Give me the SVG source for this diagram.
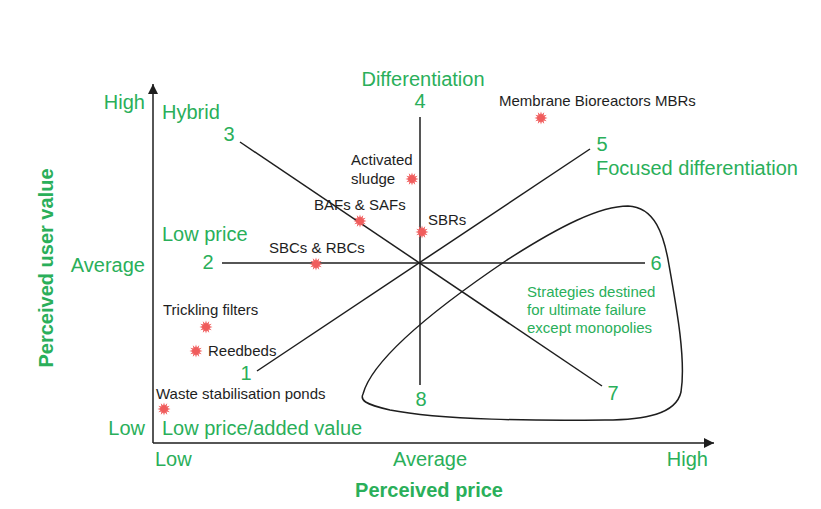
<svg xmlns="http://www.w3.org/2000/svg" xmlns:xlink="http://www.w3.org/1999/xlink" width="821" height="509" viewBox="0 0 821 509">
<style>
text { font-family: "Liberation Sans", Arial, sans-serif; }
.g { fill: #2aaf5a; font-size: 20px; }
.gb { fill: #2aaf5a; font-size: 20px; font-weight: bold; }
.gs { fill: #2aaf5a; font-size: 15px; }
.k { fill: #1e1e1e; font-size: 15px; }
.ln { stroke: #1e1e1e; stroke-width: 1.5; fill: none; }
.star { fill: #f05c5c; }
</style>
<defs>
<polygon id="star" points="6.5,0 3.48,0.93 5.63,3.25 2.55,2.55 3.25,5.63 0.93,3.48 0,6.5 -0.93,3.48 -3.25,5.63 -2.55,2.55 -5.63,3.25 -3.48,0.93 -6.5,0 -3.48,-0.93 -5.63,-3.25 -2.55,-2.55 -3.25,-5.63 -0.93,-3.48 0,-6.5 0.93,-3.48 3.25,-5.63 2.55,-2.55 5.63,-3.25 3.48,-0.93"/>
<marker id="arr" viewBox="0 0 10 10" refX="10" refY="5" markerWidth="10" markerHeight="10" markerUnits="userSpaceOnUse" orient="auto">
<path d="M0,0 L10,5 L0,10 Z" fill="#1e1e1e"/>
</marker>
</defs>
<rect width="821" height="509" fill="#ffffff"/>

<g id="axes">
<line class="ln" x1="153" y1="443" x2="153" y2="84" marker-end="url(#arr)"/>
<line class="ln" x1="153" y1="443" x2="714" y2="443" marker-end="url(#arr)"/>
<text class="g" x="145" y="109" text-anchor="end">High</text>
<text class="g" x="145" y="272" text-anchor="end">Average</text>
<text class="g" x="145" y="435" text-anchor="end">Low</text>
<text class="g" x="155" y="466">Low</text>
<text class="g" x="430" y="466" text-anchor="middle">Average</text>
<text class="g" x="708" y="466" text-anchor="end">High</text>
<text class="gb" x="429" y="497" text-anchor="middle">Perceived price</text>
<text class="gb" transform="translate(53,268) rotate(-90)" text-anchor="middle">Perceived user value</text>
</g>

<g id="connectors">
<line class="ln" x1="420" y1="117" x2="420" y2="385"/>
<line class="ln" x1="222" y1="263" x2="645" y2="263"/>
<line class="ln" x1="240" y1="142" x2="602" y2="386"/>
<line class="ln" x1="257" y1="371" x2="590" y2="149"/>
<path class="ln" d="M363,394 C372,360 430,312 507,260 C560,226 600,206 628,206 C655,207 664,235 669,265 C677,310 686,360 681,392 C676,414 645,420 605,420 C540,421 440,420 390,410 C364,404 360,400 363,394 Z"/>
</g>

<g id="strategy-labels">
<text class="g" x="423" y="86" text-anchor="middle">Differentiation</text>
<text class="g" x="420" y="108" text-anchor="middle">4</text>
<text class="g" x="162" y="119">Hybrid</text>
<text class="g" x="229" y="141" text-anchor="middle">3</text>
<text class="g" x="602" y="151" text-anchor="middle">5</text>
<text class="g" x="596" y="175">Focused differentiation</text>
<text class="g" x="162" y="241">Low price</text>
<text class="g" x="208" y="269" text-anchor="middle">2</text>
<text class="g" x="656" y="270" text-anchor="middle">6</text>
<text class="g" x="246" y="380" text-anchor="middle">1</text>
<text class="g" x="613" y="400" text-anchor="middle">7</text>
<text class="g" x="421" y="406" text-anchor="middle">8</text>
<text class="g" x="162" y="435">Low price/added value</text>
<text class="gs" x="527" y="297">Strategies destined</text>
<text class="gs" x="527" y="315">for ultimate failure</text>
<text class="gs" x="527" y="333">except monopolies</text>
</g>

<g id="node-mbr"><use xlink:href="#star" class="star" x="541" y="118"/><text class="k" x="499" y="106">Membrane Bioreactors MBRs</text></g>
<g id="node-activated-sludge"><use xlink:href="#star" class="star" x="412" y="179"/><text class="k" x="351" y="165">Activated</text><text class="k" x="351" y="184">sludge</text></g>
<g id="node-bafs"><use xlink:href="#star" class="star" x="360" y="221"/><text class="k" x="314" y="210">BAFs &amp; SAFs</text></g>
<g id="node-sbrs"><use xlink:href="#star" class="star" x="422" y="232"/><text class="k" x="428" y="225">SBRs</text></g>
<g id="node-sbcs"><use xlink:href="#star" class="star" x="316" y="264"/><text class="k" x="269" y="253">SBCs &amp; RBCs</text></g>
<g id="node-trickling"><use xlink:href="#star" class="star" x="206" y="327"/><text class="k" x="163" y="315">Trickling filters</text></g>
<g id="node-reedbeds"><use xlink:href="#star" class="star" x="196" y="351"/><text class="k" x="208" y="356">Reedbeds</text></g>
<g id="node-wsp"><use xlink:href="#star" class="star" x="164" y="409"/><text class="k" x="156" y="399">Waste stabilisation ponds</text></g>
</svg>
